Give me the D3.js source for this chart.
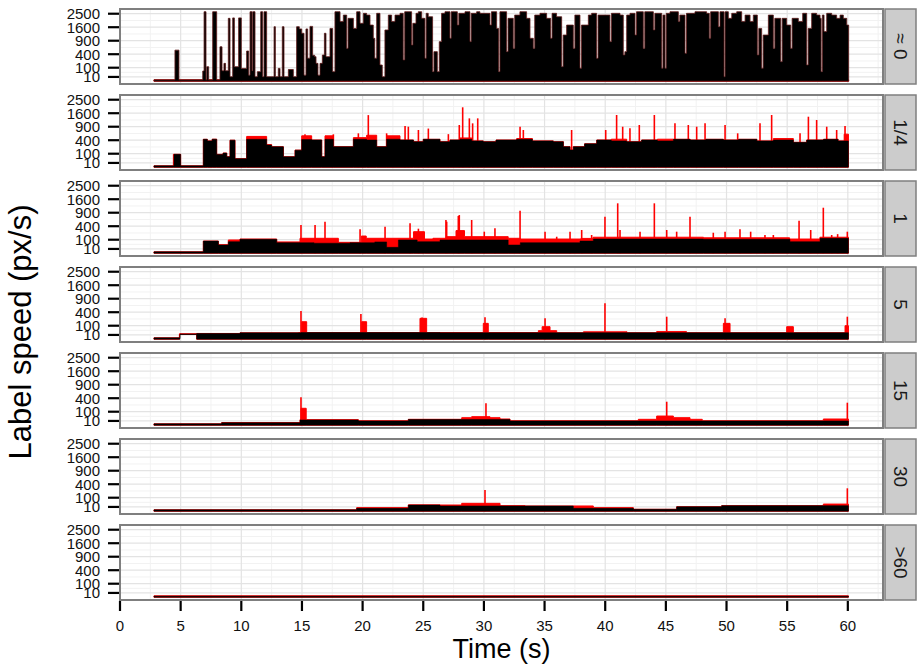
<!DOCTYPE html>
<html>
<head>
<meta charset="utf-8">
<script src="https://cdn.jsdelivr.net/npm/d3@7/dist/d3.min.js"></script>
<style>
  body { margin: 0; background: #fff; }
  svg { display: block; font-family: "Liberation Sans", Arial, Helvetica, sans-serif; }
</style>
</head>
<body>
<div id="chart"></div>
<script>
// facet rows, top to bottom
const facetLabels = ['\u2248 0', '1/4', '1', '5', '15', '30', '>60'];
const xTicks = [0, 5, 10, 15, 20, 25, 30, 35, 40, 45, 50, 55, 60];
const yTicks = [10, 100, 400, 900, 1600, 2500];

// [time (s), speed (px/s), optional lower bound] - step series
const blackNear0 = [
  [2.80, 1], [4.53, 530], [4.86, 1], [6.82, 57], [6.93, 2650], [7.09, 1], [7.15, 115], [7.31, 1],
  [7.64, 2650], [7.97, 1], [8.24, 650], [8.41, 60], [8.57, 175], [8.70, 60], [8.93, 2170], [9.07, 11],
  [9.29, 2200], [9.43, 115], [9.78, 2200], [10.0, 90], [10.44, 500], [10.61, 20], [10.72, 2650],
  [10.88, 60], [10.94, 2650], [11.13, 11], [11.32, 50], [11.6, 2650], [11.76, 11], [11.87, 2650],
  [12.09, 11], [12.70, 1630], [12.81, 11], [13.05, 90], [13.19, 11], [13.38, 1630], [13.52, 11],
  [13.88, 75], [14.29, 11], [14.56, 1630], [14.78, 1500], [14.98, 1260], [15.17, 20], [15.33, 1500],
  [15.47, 290], [15.66, 1650], [15.88, 370], [16.05, 330], [16.16, 175], [16.32, 20], [16.49, 175],
  [16.68, 377], [16.85, 1260], [16.98, 330], [17.31, 1530], [17.53, 50],
  [17.72, 2650], [18.14, 1950], [18.41, 2400], [18.69, 590], [18.80, 2170], [19.24, 1530],
  [19.51, 2650], [19.79, 1840], [20.06, 2530], [20.33, 2400], [20.61, 1730], [20.88, 1010],
  [21.0, 290], [21.16, 2530], [21.43, 144], [21.62, 11], [21.84, 1440], [22.12, 2400], [22.39, 1950],
  [22.67, 2400], [23.08, 2530], [23.35, 247], [23.47, 2650], [24.04, 717], [24.14, 1840], [24.40, 2530],
  [24.59, 2650], [24.87, 2170], [25.14, 287], [25.24, 2530], [25.41, 2280], [25.77, 50], [25.88, 480],
  [26.16, 50], [26.32, 858], [26.51, 2530], [26.79, 2650], [27.20, 1010], [27.30, 2650], [27.81, 1730],
  [27.93, 2530], [28.44, 2650], [28.85, 858], [28.95, 2530], [29.40, 2650], [29.67, 2530], [30.50, 1730],
  [30.62, 2650], [31.05, 1530], [31.22, 50], [31.32, 2650], [31.87, 480], [31.99, 2170], [32.42, 590],
  [32.54, 2400], [32.97, 2650], [33.52, 2170], [33.80, 1010], [34.07, 590], [34.19, 2400], [34.62, 2530],
  [35.17, 2170], [35.50, 1010], [35.62, 2530], [35.99, 2280], [36.41, 116], [36.53, 1170], [36.82, 1730],
  [37.37, 590], [37.50, 2400], [37.92, 91], [38.04, 1730], [38.61, 2400], [38.88, 2530], [39.29, 287],
  [39.41, 2400], [40.39, 858], [40.51, 2530], [41.22, 2400], [41.49, 377], [41.62, 480], [41.77, 2400],
  [42.04, 2530], [42.46, 1170], [42.58, 2650], [43.14, 590], [43.26, 2650], [43.97, 1440], [44.09, 2530],
  [44.66, 91], [44.76, 2400], [44.93, 91], [45.03, 2530], [45.34, 2650], [46.03, 1950], [46.15, 2400],
  [46.58, 426], [46.70, 2530], [47.40, 2650], [48.36, 2530], [48.58, 1010], [48.69, 2650], [49.33, 1630],
  [49.46, 2650], [49.80, 11], [49.88, 2650], [50.15, 2170], [50.43, 2530], [50.84, 2650], [51.25, 1950],
  [51.53, 2400], [51.94, 1950], [52.21, 2400], [52.54, 377], [52.66, 1530], [52.90, 91], [53.02, 1170],
  [53.45, 2400], [53.86, 590], [53.98, 2170], [54.47, 209], [54.59, 2170], [54.96, 1730], [55.29, 590],
  [55.41, 2170], [55.92, 1950], [56.28, 2530], [56.61, 144], [56.73, 1530], [57.02, 2530], [57.43, 2400],
  [57.71, 2170], [57.80, 50], [57.90, 2400], [58.04, 1350], [58.26, 2530], [58.67, 2400], [59.08, 2170],
  [59.36, 2400], [59.63, 2170], [59.91, 1730], [60.07, 0]
];
const redNear0 = [[2.80, 1], [60.07, 0]];
const spikesNear0 = [];

const blackQuarter = [
  [2.8, 1], [4.45, 91], [5.0, 1], [6.87, 427], [7.2, 380], [7.6, 430], [7.97, 90], [8.5, 110], [8.8, 60],
  [9.07, 400], [9.48, 40], [10.44, 427], [12.09, 270], [12.50, 230], [13.47, 60], [14.43, 160],
  [14.98, 420], [15.80, 406], [16.63, 60], [16.90, 427], [17.59, 231], [19.24, 427], [20.33, 406],
  [21.16, 231], [21.98, 430], [23.08, 406], [24.2, 357], [25.0, 427], [26.38, 357], [27.2, 406],
  [28.03, 427], [29.0, 380], [29.95, 357], [31.0, 406], [32.70, 427], [34.0, 380], [35.72, 357],
  [36.55, 231], [37.10, 162], [37.37, 231], [38.3, 300], [39.30, 406], [40.5, 380], [41.77, 357],
  [43.0, 406], [44.3, 380], [45.62, 427], [47.0, 406], [48.3, 427], [49.74, 406], [51.0, 427],
  [52.5, 380], [53.86, 406], [55.51, 340], [56.61, 406], [58.0, 427], [59.2, 380], [60.05, 0]
];
const redQuarter = [
  [2.8, 1], [4.4, 91], [5.0, 1], [6.87, 427], [7.2, 380], [7.6, 430], [7.97, 90], [8.5, 110], [8.8, 60],
  [9.07, 400], [9.48, 40], [10.44, 520], [12.09, 280], [12.50, 230], [13.47, 60], [14.43, 160],
  [14.98, 540], [15.80, 406], [16.63, 60], [16.90, 540], [17.59, 231], [19.24, 480], [20.33, 560],
  [21.16, 231], [21.98, 540], [23.08, 406], [24.2, 357], [25.0, 427], [26.38, 357], [27.2, 406],
  [28.03, 470], [29.0, 380], [29.95, 357], [31.0, 406], [32.70, 450], [34.0, 380], [35.72, 357],
  [36.55, 231], [37.10, 162], [37.37, 231], [38.3, 300], [39.30, 406], [40.5, 430], [41.77, 357],
  [43.0, 406], [44.3, 430], [45.62, 427], [47.0, 406], [48.3, 427], [49.74, 406], [51.0, 427],
  [52.5, 380], [53.86, 450], [55.51, 340], [56.61, 406], [58.0, 427], [59.2, 380], [59.7, 600], [60.05, 0]
];
const spikesQuarter = [
  [10.58, 511], [15.25, 594], [17.59, 594], [19.65, 630], [20.47, 1490], [21.98, 630], [23.5, 930],
  [23.77, 900], [24.6, 760], [25.42, 820], [27.07, 600], [27.97, 977], [28.25, 1970], [28.8, 1310],
  [29.07, 1056], [29.49, 1310], [32.98, 900], [33.25, 760], [37.23, 760], [40.04, 760], [40.94, 1495],
  [41.44, 900], [42.04, 830], [42.81, 977], [44.05, 1495], [45.75, 1056], [46.85, 977], [47.54, 900],
  [48.23, 1056], [49.88, 977], [50.92, 630], [52.76, 1056], [53.72, 1495], [56.06, 630], [56.75, 1400],
  [57.43, 1222], [58.26, 900], [59.08, 760], [59.77, 930]
];

const blackOne = [
  [2.8, 1], [6.87, 81], [8.11, 37], [8.93, 73], [9.89, 106], [12.92, 61], [14.84, 60], [16.0, 55],
  [18.96, 60], [21.0, 70], [21.98, 19], [22.95, 96], [24.5, 73], [26.38, 96], [32.0, 37], [33.0, 61],
  [37.92, 81], [39.02, 110], [48.09, 106], [55.23, 73], [57.71, 122], [60.05, 0]
];
const redOne = [
  [2.8, 1], [6.87, 81], [8.11, 40], [8.93, 96], [9.89, 110], [12.92, 70], [14.84, 122], [18.0, 65],
  [19.9, 162], [20.3, 122], [22.0, 122], [24.2, 254], [25.1, 110], [25.8, 122], [26.9, 150], [27.7, 280],
  [28.4, 150], [32.0, 122], [33.0, 110], [38.0, 120], [39.0, 140], [48.1, 130], [55.2, 110], [57.7, 140],
  [60.05, 0]
];
const spikesOne = [
  [14.92, 436], [16.08, 436], [16.9, 545], [19.79, 313], [21.85, 385], [23.91, 490], [24.6, 330],
  [26.87, 605], [26.93, 545], [27.89, 760], [27.97, 800], [28.99, 605], [30.03, 254], [30.91, 339],
  [32.98, 990], [35.04, 254], [36.0, 149], [37.1, 254], [38.06, 295], [38.88, 182], [39.98, 731],
  [41.03, 1366], [41.22, 295], [42.87, 254], [44.05, 1366], [45.07, 295], [45.89, 254], [46.99, 731],
  [48.91, 230], [49.88, 254], [51.11, 313], [51.99, 254], [53.17, 182], [53.86, 182], [55.98, 580],
  [56.94, 295], [57.98, 1136], [58.67, 182], [59.16, 200], [59.96, 254]
];

const blackFive = [
  [2.8, 1], [4.95, 15, 12], [6.32, 18], [9.89, 22], [14.92, 24], [26.38, 23], [60.05, 0]
];
const redFive = [
  [2.8, 1], [4.9, 16, 13], [6.32, 18], [9.89, 22], [14.7, 24], [14.98, 168], [15.39, 24], [19.92, 168],
  [20.33, 24], [24.73, 239], [25.28, 24], [29.95, 138], [30.36, 24], [34.49, 40], [34.8, 86], [35.45, 40],
  [36.0, 23], [38.2, 30], [41.8, 23], [44.24, 32], [46.7, 23], [49.74, 138], [50.29, 23], [54.96, 86],
  [55.51, 23], [59.77, 100], [60.05, 0]
];
const spikesFive = [
  [14.92, 436], [19.86, 348], [24.9, 260], [30.09, 263], [35.04, 239], [39.98, 707], [45.07, 278],
  [49.88, 239], [59.96, 278]
];

const blackFifteen = [
  [2.8, 1], [8.38, 3.4], [14.84, 15], [19.65, 10], [23.77, 18], [32.15, 10], [60.05, 0]
];
const redFifteen = [
  [2.8, 1], [8.38, 3.8], [14.84, 17], [14.92, 157], [15.35, 17], [19.65, 11], [23.77, 19], [28.17, 31],
  [28.99, 40], [30.5, 31], [31.33, 21], [32.15, 11], [42.73, 19], [44.24, 46], [45.62, 31], [46.99, 19],
  [48.0, 11], [57.98, 21], [60.05, 0]
];
const spikesFifteen = [[14.92, 427], [30.17, 263], [45.07, 303], [59.96, 278]];

const blackThirty = [
  [2.8, 1], [19.51, 4.6], [23.77, 21], [26.38, 15], [37.37, 4.6], [42.32, 2], [45.89, 11], [49.6, 17],
  [60.05, 0]
];
const redThirty = [
  [2.8, 1], [19.51, 7], [23.77, 22], [26.38, 21], [28.17, 34], [31.33, 17], [33.39, 15], [39.02, 7],
  [42.32, 2], [45.89, 11], [49.6, 17], [57.98, 28], [60.05, 0]
];
const spikesThirty = [[30.09, 246], [59.96, 288]];

const blackSixty = [[2.8, 0.6], [60.05, 0]];
const redSixty = [[2.8, 1], [60.05, 0]];
const spikesSixty = [];

const blackSeries = [blackNear0, blackQuarter, blackOne, blackFive, blackFifteen, blackThirty, blackSixty];
const redSeries = [redNear0, redQuarter, redOne, redFive, redFifteen, redThirty, redSixty];
const redSpikes = [spikesNear0, spikesQuarter, spikesOne, spikesFive, spikesFifteen, spikesThirty, spikesSixty];

// layout
const width = 918, height = 666;
const panelLeft = 120, panelWidth = 763, panelHeight = 75;
const panelTop0 = 9, panelStep = 86;
const stripX = 885, stripWidth = 31;

const svg = d3.select('#chart')
  .append('svg')
  .attr('width', width)
  .attr('height', height);

const x = d3.scaleLinear().domain([0, 62.9]).range([0, panelWidth]);
const y = d3.scaleSqrt().domain([0, 2862]).range([panelHeight - 2.8, 0]);

const minorX = d3.range(2.5, 63, 5);
const minorY = [43, 225, 625, 1225, 2025];

const area = d3.area()
  .curve(d3.curveStepAfter)
  .x(d => x(d[0]))
  .y0(d => y(d[2] || 0))
  .y1(d => y(d[1]));

facetLabels.forEach((label, i) => {
  const top = panelTop0 + i * panelStep;
  const g = svg.append('g').attr('transform', `translate(${panelLeft},${top})`);

  g.append('rect')
    .attr('width', panelWidth)
    .attr('height', panelHeight)
    .attr('fill', '#fff');

  // grid
  g.selectAll('.minor-x').data(minorX).join('line')
    .attr('x1', d => x(d)).attr('x2', d => x(d))
    .attr('y1', 0).attr('y2', panelHeight)
    .attr('stroke', '#f2f2f2').attr('stroke-width', 1);
  g.selectAll('.minor-y').data(minorY).join('line')
    .attr('x1', 0).attr('x2', panelWidth)
    .attr('y1', d => y(d)).attr('y2', d => y(d))
    .attr('stroke', '#f2f2f2').attr('stroke-width', 1);
  g.selectAll('.major-x').data(xTicks).join('line')
    .attr('x1', d => x(d)).attr('x2', d => x(d))
    .attr('y1', 0).attr('y2', panelHeight)
    .attr('stroke', '#e3e3e3').attr('stroke-width', 1.2);
  g.selectAll('.major-y').data(yTicks).join('line')
    .attr('x1', 0).attr('x2', panelWidth)
    .attr('y1', d => y(d)).attr('y2', d => y(d))
    .attr('stroke', '#e3e3e3').attr('stroke-width', 1.2);

  const clipId = `clip-${i}`;
  g.append('clipPath').attr('id', clipId)
    .append('rect').attr('width', panelWidth).attr('height', panelHeight);

  const data = g.append('g').attr('clip-path', `url(#${clipId})`);

  data.append('path')
    .datum(redSeries[i])
    .attr('d', area)
    .attr('fill', '#ff0000')
    .attr('stroke', '#ff0000')
    .attr('stroke-width', 1);

  data.selectAll('.spike').data(redSpikes[i]).join('line')
    .attr('x1', d => x(d[0])).attr('x2', d => x(d[0]))
    .attr('y1', y(0)).attr('y2', d => y(d[1]))
    .attr('stroke', '#ff0000')
    .attr('stroke-width', 1.6);

  data.append('path')
    .datum(blackSeries[i])
    .attr('d', area)
    .attr('fill', '#000')
    .attr('stroke', i === 0 ? '#5e1a1a' : '#000')
    .attr('stroke-width', i === 0 ? 0.8 : 0.5);

  g.append('rect')
    .attr('width', panelWidth)
    .attr('height', panelHeight)
    .attr('fill', 'none')
    .attr('stroke', '#7f7f7f')
    .attr('stroke-width', 2);

  // y axis
  g.selectAll('.ytick').data(yTicks).join('line')
    .attr('x1', -12).attr('x2', -1)
    .attr('y1', d => y(d)).attr('y2', d => y(d))
    .attr('stroke', '#000').attr('stroke-width', 2.2);
  g.selectAll('.ylab').data(yTicks).join('text')
    .attr('x', -20)
    .attr('y', d => y(d))
    .attr('dy', '0.36em')
    .attr('text-anchor', 'end')
    .attr('font-size', '15px')
    .attr('fill', '#111')
    .text(d => d);

  // strip
  const strip = svg.append('g').attr('transform', `translate(${stripX},${top})`);
  strip.append('rect')
    .attr('width', stripWidth)
    .attr('height', panelHeight)
    .attr('fill', '#cccccc')
    .attr('stroke', '#7f7f7f')
    .attr('stroke-width', 1.5);
  strip.append('text')
    .attr('transform', `translate(${stripWidth / 2},${panelHeight / 2}) rotate(90)`)
    .attr('text-anchor', 'middle')
    .attr('dy', '0.36em')
    .attr('font-size', '19px')
    .attr('fill', '#1a1a1a')
    .text(label);
});

// x axis under the last panel
const axisTop = panelTop0 + (facetLabels.length - 1) * panelStep + panelHeight;
const xAxis = svg.append('g').attr('transform', `translate(${panelLeft},${axisTop})`);
xAxis.selectAll('line').data(xTicks).join('line')
  .attr('x1', d => x(d)).attr('x2', d => x(d))
  .attr('y1', 1).attr('y2', 11)
  .attr('stroke', '#000').attr('stroke-width', 2.2);
xAxis.selectAll('text').data(xTicks).join('text')
  .attr('x', d => x(d))
  .attr('y', 31)
  .attr('text-anchor', 'middle')
  .attr('font-size', '15px')
  .attr('fill', '#111')
  .text(d => d);

svg.append('text')
  .attr('x', panelLeft + panelWidth / 2)
  .attr('y', 658)
  .attr('text-anchor', 'middle')
  .attr('font-size', '27px')
  .attr('fill', '#000')
  .text('Time (s)');

svg.append('text')
  .attr('transform', `translate(31,332) rotate(-90)`)
  .attr('text-anchor', 'middle')
  .attr('font-size', '31px')
  .attr('fill', '#000')
  .text('Label speed (px/s)');
</script>
</body>
</html>
